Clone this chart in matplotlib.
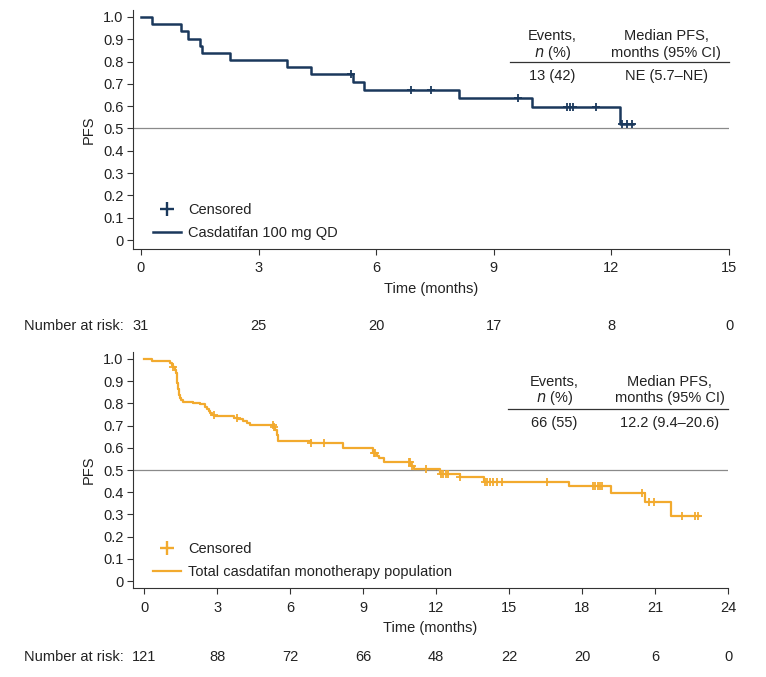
import numpy as np
import matplotlib
matplotlib.use("Agg")
import matplotlib.pyplot as plt
from matplotlib.lines import Line2D

plt.rcParams["font.family"] = ["Liberation Sans", "DejaVu Sans"]
plt.rcParams["font.size"] = 10.5

# ---- top panel: casdatifan 100 mg QD ----
top_times = [0, 0.28, 1.02, 1.21, 1.50, 1.56, 2.27, 3.72, 4.34, 5.42, 5.70, 8.10, 9.97, 12.22, 12.55]
top_surv = [1.0, 0.968, 0.935, 0.903, 0.871, 0.839, 0.806, 0.774, 0.742, 0.708, 0.674, 0.637, 0.597, 0.522, 0.522]
top_censor = [5.36, 6.90, 7.39, 9.62, 10.86, 10.94, 11.03, 11.60, 12.26, 12.39, 12.53]
top_risk = [31, 25, 20, 17, 8, 0]
top_ticks = [0, 3, 6, 9, 12, 15]

# ---- bottom panel: total monotherapy population ----
bot_times = [0, 0.30, 1.06, 1.15, 1.19, 1.25, 1.30, 1.33, 1.36, 1.39, 1.41, 1.45, 1.50, 1.60,
             1.99, 2.29, 2.50, 2.57, 2.64, 2.70, 2.77, 2.87, 3.70, 3.87, 4.07, 4.24, 4.35,
             5.33, 5.38, 5.45, 5.50, 6.85, 8.19, 9.42, 9.55, 9.67, 9.84, 10.95, 11.10,
             12.17, 12.99, 13.95, 17.48, 19.19, 20.60, 21.66, 22.80]
bot_surv = [1.0, 0.992, 0.983, 0.973, 0.964, 0.950, 0.936, 0.913, 0.890, 0.864, 0.838, 0.826, 0.815, 0.808,
            0.800, 0.796, 0.785, 0.775, 0.766, 0.757, 0.748, 0.742, 0.736, 0.728, 0.721, 0.710, 0.703,
            0.692, 0.680, 0.658, 0.632, 0.620, 0.598, 0.575, 0.564, 0.553, 0.535, 0.519, 0.503,
            0.481, 0.467, 0.447, 0.429, 0.395, 0.354, 0.293, 0.293]
bot_censor = [1.20, 2.85, 3.80, 5.28, 5.35, 6.85, 7.37, 9.45, 9.50, 10.88, 10.93, 11.00, 11.59,
              12.20, 12.30, 12.40, 12.50, 12.99, 14.00, 14.10, 14.20, 14.35, 14.50, 14.70, 16.56,
              18.45, 18.55, 18.65, 18.75, 18.82, 20.47, 20.74, 20.95, 22.10, 22.66, 22.78]
bot_risk = [121, 88, 72, 66, 48, 22, 20, 6, 0]
bot_ticks = [0, 3, 6, 9, 12, 15, 18, 21, 24]

navy = "#1a385c"
gold = "#f2aa2e"
txt = "#222222"


def surv_at(times, surv, t):
    idx = np.searchsorted(times, t, side="right") - 1
    return np.array(surv)[idx]


def km_panel(ax, times, surv, censor, color, label, ticks, xlim, ylim, lw):
    ax.step(times, surv, where="post", color=color, lw=lw, zorder=3)
    ax.plot(censor, surv_at(times, surv, censor), "+", color=color, ms=5.5, mew=1.3, zorder=4)
    ax.axhline(0.5, color="#8a8a8a", lw=0.9, zorder=1)
    ax.set_xlim(*xlim)
    ax.set_ylim(*ylim)
    ax.set_xticks(ticks)
    ax.set_yticks(np.arange(0, 1.01, 0.1))
    ax.set_yticklabels(["0"] + ["%.1f" % v for v in np.arange(0.1, 1.01, 0.1)])
    for s in ["top", "right"]:
        ax.spines[s].set_visible(False)
    for s in ["left", "bottom"]:
        ax.spines[s].set_color("#333333")
        ax.spines[s].set_linewidth(0.8)
    ax.tick_params(axis="y", length=4.5, width=0.8, pad=2.5, colors="#333333", labelcolor=txt)
    ax.tick_params(axis="x", length=4, width=0.8, pad=5, colors="#333333", labelcolor=txt)
    ax.set_xlabel("Time (months)", color=txt, labelpad=5)
    ax.set_ylabel("PFS", color=txt, labelpad=5)
    handles = [Line2D([], [], color=color, marker="+", ls="none", ms=10, mew=1.7),
               Line2D([], [], color=color, lw=lw)]
    ax.legend(handles, ["Censored", label], loc="lower left", bbox_to_anchor=(0.022, 0.008),
              frameon=False, borderpad=0, handlelength=1.9, handletextpad=0.5,
              labelspacing=0.6, labelcolor=txt)


fig = plt.figure(figsize=(7.66, 6.77), dpi=100)
W, H = 766, 677
ax1 = fig.add_axes([133 / W, 1 - 249 / H, (729 - 133) / W, (249 - 10) / H])
ax2 = fig.add_axes([133 / W, 1 - 588 / H, (728 - 133) / W, (588 - 352) / H])

km_panel(ax1, top_times, top_surv, top_censor, navy, "Casdatifan 100 mg QD",
         top_ticks, (-0.204, 15), (-0.040, 1.031), 1.8)
km_panel(ax2, bot_times, bot_surv, bot_censor, gold, "Total casdatifan monotherapy population",
         bot_ticks, (-0.465, 24), (-0.0315, 1.0315), 1.6)


# summary tables
def table(ax, xe, xm, x0, y_head, y_line, y_val, events, median):
    ax.text(xe, y_head, "Events,", ha="center", va="center", color=txt)
    ax.text(xe, y_head - 0.075, "$\\it{n}$ (%)", ha="center", va="center", color=txt)
    ax.text(xm, y_head, "Median PFS,", ha="center", va="center", color=txt)
    ax.text(xm, y_head - 0.075, "months (95% CI)", ha="center", va="center", color=txt)
    ax.plot([x0, ax.get_xlim()[1]], [y_line, y_line], color="#333333", lw=0.9, clip_on=False)
    ax.text(xe, y_val, events, ha="center", va="center", color=txt)
    ax.text(xm, y_val, median, ha="center", va="center", color=txt)


table(ax1, 10.5, 13.4, 9.41, 0.915, 0.800, 0.735, "13 (42)", "NE (5.7\u2013NE)")
table(ax2, 16.87, 21.6, 14.94, 0.898, 0.773, 0.713, "66 (55)", "12.2 (9.4\u201320.6)")

# number at risk
for ax, ticks, risk, ypx in [(ax1, top_ticks, top_risk, 326), (ax2, bot_ticks, bot_risk, 657)]:
    yf = 1 - ypx / H
    fig.text(124 / W, yf, "Number at risk:", ha="right", va="center", color=txt)
    for t, n in zip(ticks, risk):
        xd = ax.transData.transform((t, 0))[0]
        xf = fig.transFigure.inverted().transform((xd, 0))[0]
        fig.text(xf, yf, str(n), ha="center", va="center", color=txt)

fig.savefig("out.png", dpi=100, facecolor="white")
